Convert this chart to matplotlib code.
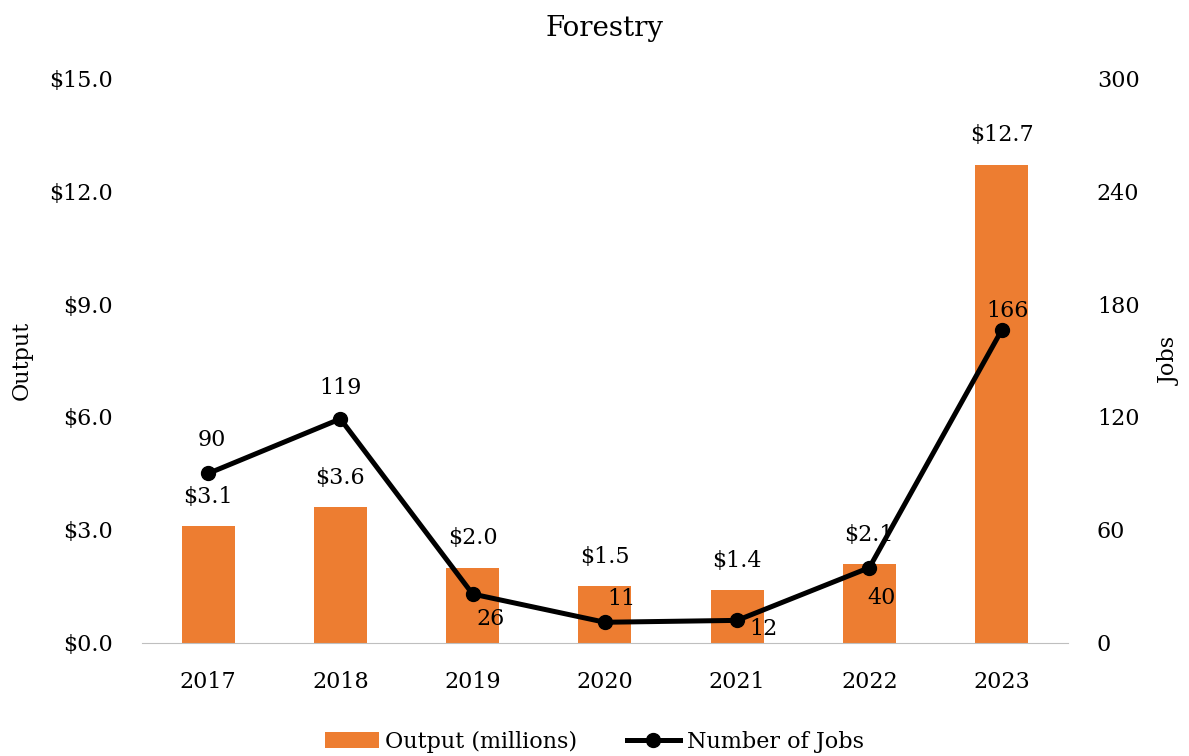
'''
Forestry output and jobs, bars with a jobs line on a second axis
'''
import matplotlib
matplotlib.use('Agg')
import matplotlib.pyplot as plt
from matplotlib.ticker import FuncFormatter

years  = ['2017', '2018', '2019', '2020', '2021', '2022', '2023']
output = [3.1, 3.6, 2.0, 1.5, 1.4, 2.1, 12.7]
jobs   = [90, 119, 26, 11, 12, 40, 166]

# label offsets for the jobs values, in points
job_offsets = [(3, 24), (0, 22), (13, -18), (12, 17), (19, -6), (9, -22), (4, 14)]

ORANGE = '#ED7D31'
FONT   = 'DejaVu Serif'
# ------------------------------------
def _setup():
    plt.rcParams['font.family'] = [FONT]
    plt.rcParams['font.size']   = 16
# ------------------------------------
def _plot_bars(ax):
    xpos = range(len(years))
    bars = ax.bar(xpos, output, width=0.4, color=ORANGE, label='Output (millions)', zorder=2)
    for bar, val in zip(bars, output):
        ax.annotate(f'${val:.1f}', (bar.get_x() + bar.get_width() / 2, val),
                    xytext=(0, 21), textcoords='offset points', ha='center', va='center')

    ax.set_ylim(0, 15)
    ax.set_yticks([0, 3, 6, 9, 12, 15])
    ax.yaxis.set_major_formatter(FuncFormatter(lambda v, _: f'${v:.1f}'))
    ax.set_xticks(list(xpos))
    ax.set_xticklabels(years)
    ax.set_xlim(-0.5, len(years) - 0.5)
    ax.set_ylabel('Output')
    ax.yaxis.set_label_coords(-0.118, 0.5)
    return bars
# ------------------------------------
def _plot_line(ax):
    xpos = range(len(years))
    line, = ax.plot(xpos, jobs, color='black', lw=3.6, marker='o', ms=10, label='Number of Jobs', zorder=3)
    for x, val, off in zip(xpos, jobs, job_offsets):
        ax.annotate(f'{val}', (x, val), xytext=off, textcoords='offset points',
                    ha='center', va='center')

    ax.set_ylim(0, 300)
    ax.set_yticks([0, 60, 120, 180, 240, 300])
    ax.set_ylabel('Jobs', rotation=90, va='top')
    ax.yaxis.set_label_coords(1.099, 0.5)
    return line
# ------------------------------------
def main():
    _setup()
    fig = plt.figure(figsize=(11.89, 7.56), dpi=100)
    ax  = fig.add_axes([0.1194, 0.1495, 0.7786, 0.7473])
    ax2 = ax.twinx()

    bars = _plot_bars(ax)
    line = _plot_line(ax2)

    for axis in (ax, ax2):
        for side in ('top', 'left', 'right'):
            axis.spines[side].set_visible(False)
        axis.spines['bottom'].set_color('#BFBFBF')
        axis.tick_params(axis='y', length=0, pad=21)
        axis.tick_params(axis='x', length=0, pad=20)
    ax2.spines['bottom'].set_visible(False)

    ax.set_title('Forestry', pad=30, fontsize=20)
    fig.legend([bars, line], ['Output (millions)', 'Number of Jobs'], loc='lower center',
               ncol=2, frameon=False, bbox_to_anchor=(0.5, -0.022), handlelength=2.4,
               handletextpad=0.3, columnspacing=2.2)

    fig.savefig('out.png', dpi=100)
# ------------------------------------
if __name__ == '__main__':
    main()
